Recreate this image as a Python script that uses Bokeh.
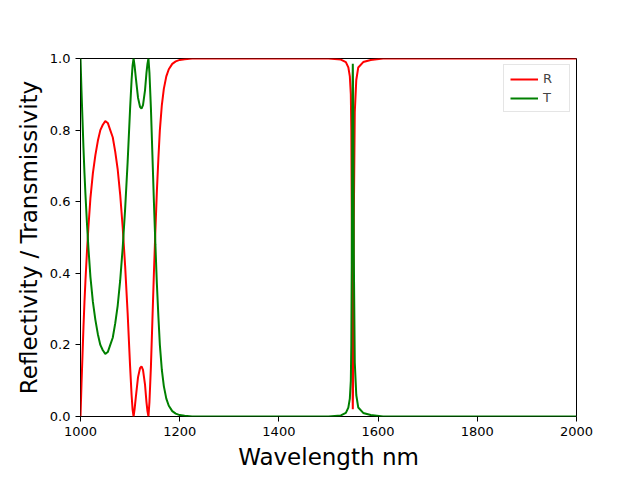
from bokeh.plotting import figure
from bokeh.models import Range1d, FixedTicker, NumeralTickFormatter, Legend, LegendItem
from bokeh.embed import file_html
from bokeh.resources import INLINE

# values
wavelength = [1000, 1002, 1004, 1006, 1008, 1010, 1013, 1016, 1020, 1025, 1030, 1035, 1040,
              1045, 1050, 1055, 1060, 1065, 1070, 1075, 1080, 1085, 1090, 1095, 1100, 1103,
              1105, 1107, 1109, 1112, 1116, 1120, 1123, 1126, 1130, 1133, 1135, 1137, 1139,
              1142, 1145, 1148, 1151, 1154, 1157, 1160, 1164, 1168, 1173, 1178, 1185, 1192,
              1200, 1210, 1225, 1245, 1300, 1400, 1500, 1525, 1535, 1540, 1543, 1545, 1546,
              1547, 1548, 1549, 1550, 1551, 1553, 1556, 1560, 1570, 1585, 1610, 1650, 1800,
              2000]
reflect = [0.0, 0.09, 0.17, 0.25, 0.32, 0.38, 0.46, 0.53, 0.61, 0.68, 0.73, 0.77, 0.80,
           0.815, 0.825, 0.82, 0.80, 0.78, 0.74, 0.69, 0.62, 0.53, 0.42, 0.29, 0.14, 0.06,
           0.02, 0.0, 0.02, 0.06, 0.11, 0.135, 0.14, 0.13, 0.09, 0.04, 0.015, 0.0, 0.04,
           0.14, 0.27, 0.40, 0.52, 0.63, 0.72, 0.80, 0.87, 0.915, 0.95, 0.97, 0.985, 0.992,
           0.996, 0.998, 1.0, 1.0, 1.0, 1.0, 1.0, 0.997, 0.99, 0.975, 0.95,
           0.90, 0.80, 0.55, 0.15, 0.02, 0.15, 0.55, 0.85, 0.94, 0.975, 0.99, 0.996, 1.0,
           1.0, 1.0, 1.0]
transmit = [1.0, 0.91, 0.83, 0.75, 0.68, 0.62, 0.54, 0.47, 0.39, 0.32, 0.27, 0.23, 0.20,
            0.185, 0.175, 0.18, 0.20, 0.22, 0.26, 0.31, 0.38, 0.47, 0.58, 0.71, 0.86, 0.94,
            0.98, 1.0, 0.98, 0.94, 0.89, 0.865, 0.86, 0.87, 0.91, 0.96, 0.985, 1.0, 0.96,
            0.86, 0.73, 0.60, 0.48, 0.37, 0.28, 0.20, 0.13, 0.085, 0.05, 0.03, 0.015, 0.008,
            0.004, 0.002, 0.0, 0.0, 0.0, 0.0, 0.0, 0.003, 0.01, 0.025, 0.05,
            0.10, 0.20, 0.45, 0.85, 0.985, 0.85, 0.45, 0.15, 0.06, 0.025, 0.01, 0.004, 0.0,
            0.0, 0.0, 0.0]
x_ticks = [1000, 1200, 1400, 1600, 1800, 2000]
y_ticks = [0.0, 0.2, 0.4, 0.6, 0.8, 1.0]

p = figure(width=632, height=472, output_backend="svg", toolbar_location=None,
           x_range=Range1d(1000, 2000), y_range=Range1d(0, 1),
           min_border_left=80, min_border_right=56, min_border_top=58, min_border_bottom=45)
p.xgrid.grid_line_color = None
p.ygrid.grid_line_color = None
p.outline_line_color = "black"
p.outline_line_width = 1

r_line = p.line(wavelength, reflect, line_color="red", line_width=2)
t_line = p.line(wavelength, transmit, line_color="green", line_width=2)

for ax in (p.xaxis[0], p.yaxis[0]):
    ax.major_label_text_font = "DejaVu Sans"
    ax.major_label_text_font_size = "13px"
    ax.major_label_text_color = "black"
    ax.axis_label_text_font = "DejaVu Sans"
    ax.axis_label_text_font_size = "23px"
    ax.axis_label_text_font_style = "normal"
    ax.axis_label_text_color = "black"
    ax.minor_tick_line_color = None
    ax.major_tick_line_color = "black"
    ax.major_tick_in = 0
    ax.major_tick_out = 5
    ax.axis_line_color = None
p.xaxis.ticker = FixedTicker(ticks=x_ticks)
p.yaxis.ticker = FixedTicker(ticks=y_ticks)
p.yaxis.formatter = NumeralTickFormatter(format="0.0")
p.xaxis.axis_label = "Wavelength nm"
p.yaxis.axis_label = "Reflectivity / Transmissivity"

legend = Legend(items=[LegendItem(label="R", renderers=[r_line]),
                       LegendItem(label="T", renderers=[t_line])],
                location="top_right", label_text_font="DejaVu Sans",
                label_text_font_size="13px", border_line_color="#cccccc",
                glyph_height=14, glyph_width=28, spacing=4, padding=6, margin=6,
                label_height=14)
p.add_layout(legend)

open("out.html", "w").write(file_html(p, INLINE))
